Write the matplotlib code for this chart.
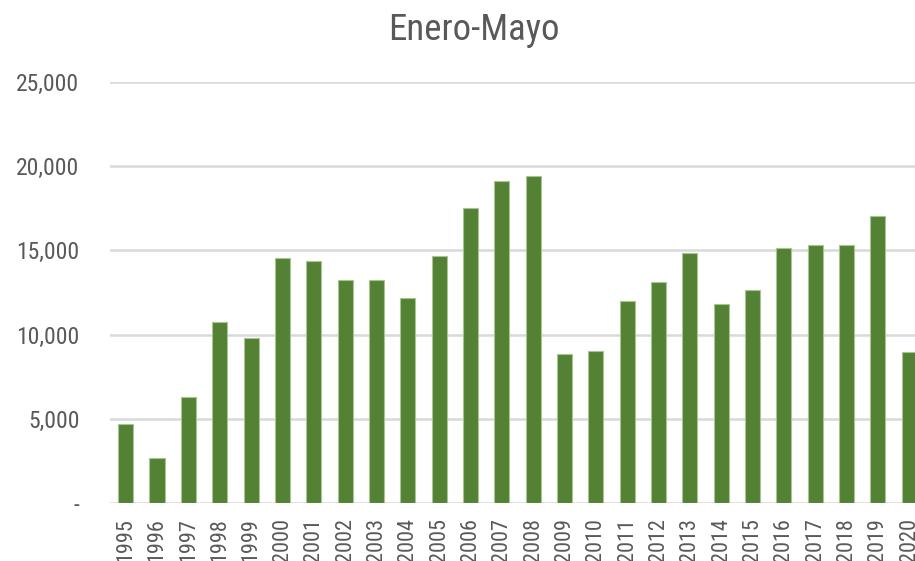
import numpy as np
import matplotlib
matplotlib.use("Agg")
import matplotlib.pyplot as plt
from matplotlib.ticker import FuncFormatter

# Enero-Mayo
years = [str(y) for y in range(1995, 2021)]
values = [4710, 2655, 6295, 10730, 9780, 14530, 14370, 13260, 13260, 12155,
          14685, 17535, 19120, 19435, 8850, 9010, 12000, 13100, 14845, 11840,
          12630, 15160, 15320, 15320, 17060, 8985]
yticks = [0, 5000, 10000, 15000, 20000, 25000]

plt.rcParams["font.family"] = ["Roboto Condensed", "Roboto", "DejaVu Sans"]

W, H = 915, 561
fig = plt.figure(figsize=(W / 100, H / 100), dpi=100)
# axes runs off the right edge, the last bar is cut like in the original
ax = fig.add_axes([110 / W, 1 - 503 / H, 26 * 31.34 / W, 421 / H])

x = np.arange(len(years))
ax.bar(x, values, width=0.48, color="#548235", edgecolor="#a9c491",
       linewidth=0.8, zorder=3)

ax.set_xlim(-0.5, len(years) - 0.5)
ax.set_ylim(0, 25000)
ax.set_yticks(yticks)
ax.yaxis.set_major_formatter(FuncFormatter(lambda v, _: "-" if v == 0 else f"{v:,.0f}"))
ax.set_xticks(x)
ax.set_xticklabels(years, rotation=90)

ax.grid(axis="y", color="#d9d9d9", lw=1.8, zorder=0)
ax.tick_params(axis="y", length=0, pad=22, labelsize=17, labelcolor="#595959")
ax.tick_params(axis="x", length=0, pad=11, labelsize=16, labelcolor="#595959")
for s in ax.spines.values():
    s.set_visible(False)

fig.text(474 / W, 1 - 30 / H, "Enero-Mayo", ha="center", va="center",
         fontsize=26.5, color="#595959")

fig.savefig("out.png", dpi=100)
